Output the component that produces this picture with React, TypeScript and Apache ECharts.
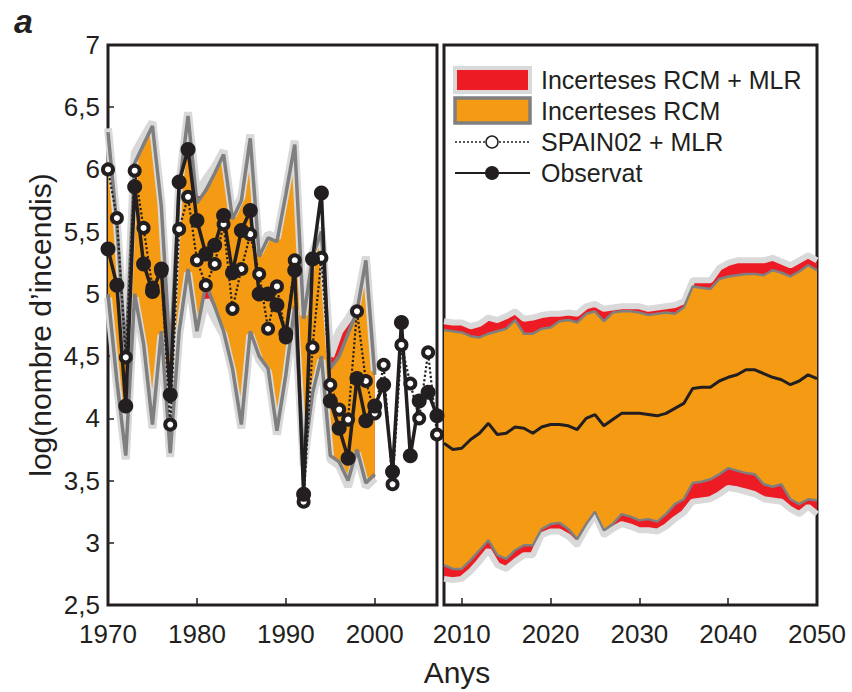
import React, { useEffect, useRef } from "react";
import * as echarts from "echarts";

// ---------- categories ----------
const obsYears = [
  "1970", "1971", "1972", "1973", "1974", "1975", "1976", "1977", "1978", "1979",
  "1980", "1981", "1982", "1983", "1984", "1985", "1986", "1987", "1988", "1989",
  "1990", "1991", "1992", "1993", "1994", "1995", "1996", "1997", "1998", "1999",
  "2000", "2001", "2002", "2003", "2004", "2005", "2006", "2007",
];
const futYears = [
  "2008", "2009", "2010", "2011", "2012", "2013", "2014", "2015", "2016", "2017",
  "2018", "2019", "2020", "2021", "2022", "2023", "2024", "2025", "2026", "2027",
  "2028", "2029", "2030", "2031", "2032", "2033", "2034", "2035", "2036", "2037",
  "2038", "2039", "2040", "2041", "2042", "2043", "2044", "2045", "2046", "2047",
  "2048", "2049", "2050",
];
const yTicks = [2.5, 3, 3.5, 4, 4.5, 5, 5.5, 6, 6.5, 7];

// ---------- historical series (1970-2007) ----------
const observed = [
  5.36, 5.07, 4.10, 5.86, 5.24, 5.02, 5.20, 4.19, 5.90, 6.16,
  5.59, 5.32, 5.39, 5.63, 5.17, 5.51, 5.67, 5.00, 5.00, 4.91,
  4.68, 5.19, 3.39, 5.28, 5.81, 4.14, 3.92, 3.68, 4.32, 3.98,
  4.10, 4.27, 3.57, 4.77, 3.70, 4.14, 4.21, 4.02,
];
const spain02Mlr = [
  6.00, 5.61, 4.49, 5.99, 5.53, 5.05, 5.18, 3.95, 5.52, 5.78,
  5.27, 5.07, 5.24, 5.56, 4.88, 5.20, 5.48, 5.16, 4.72, 5.06,
  4.65, 5.27, 3.33, 4.57, 5.29, 4.27, 4.07, 3.99, 4.86, 4.30,
  4.04, 4.43, 3.47, 4.59, 4.28, 4.00, 4.53, 3.87,
];

// ---------- historical uncertainty bands (1970-2000) ----------
const rcmHighHist = [
  6.30, 5.55, 4.50, 6.05, 6.20, 6.35, 5.70, 4.50, 5.85, 6.43,
  5.73, 5.83, 5.97, 6.12, 5.60, 5.75, 6.25, 5.30, 5.45, 5.42,
  5.80, 6.20, 4.80, 5.30, 5.50, 4.40, 4.50, 4.68, 4.86, 5.27,
  4.35,
];
const rcmLowHist = [
  5.00, 4.30, 3.70, 5.00, 4.60, 3.95, 4.70, 3.72, 4.70, 5.20,
  4.70, 5.08, 4.90, 4.70, 4.40, 3.95, 4.70, 4.50, 4.40, 3.90,
  4.35, 4.90, 3.65, 4.20, 4.50, 3.70, 3.65, 3.50, 3.75, 3.48,
  3.55,
];
const rcmMlrHighHist = [
  6.33, 5.58, 4.53, 6.13, 6.26, 6.38, 5.73, 4.53, 5.88, 6.46,
  5.80, 5.92, 6.02, 6.15, 5.63, 5.78, 6.28, 5.33, 5.48, 5.45,
  5.83, 6.23, 4.83, 5.33, 5.53, 4.50, 4.70, 4.80, 4.92, 5.30,
  4.38,
];
const rcmMlrLowHist = [
  4.97, 4.27, 3.67, 4.97, 4.57, 3.92, 4.67, 3.69, 4.67, 5.17,
  4.65, 4.95, 4.80, 4.67, 4.37, 3.92, 4.67, 4.47, 4.37, 3.87,
  4.32, 4.87, 3.62, 4.17, 4.47, 3.67, 3.62, 3.45, 3.72, 3.45,
  3.52,
];

// ---------- projections (2008-2050) ----------
const futMean = [
  3.80, 3.75, 3.76, 3.83, 3.88, 3.96, 3.87, 3.88, 3.93, 3.92,
  3.88, 3.93, 3.95, 3.95, 3.94, 3.91, 4.00, 4.03, 3.94, 3.99,
  4.04, 4.04, 4.04, 4.03, 4.02, 4.04, 4.08, 4.12, 4.24, 4.25,
  4.25, 4.30, 4.33, 4.35, 4.39, 4.39, 4.36, 4.33, 4.31, 4.27,
  4.30, 4.35, 4.32,
];
const rcmHighFut = [
  4.71, 4.70, 4.69, 4.66, 4.65, 4.68, 4.70, 4.72, 4.79, 4.68,
  4.68, 4.72, 4.73, 4.78, 4.79, 4.77, 4.84, 4.86, 4.78, 4.85,
  4.86, 4.86, 4.85, 4.83, 4.84, 4.85, 4.84, 4.89, 5.06, 5.05,
  5.04, 5.12, 5.14, 5.15, 5.16, 5.16, 5.15, 5.19, 5.17, 5.14,
  5.18, 5.23, 5.19,
];
const rcmLowFut = [
  2.82, 2.79, 2.79, 2.86, 2.94, 3.02, 2.90, 2.87, 2.94, 2.98,
  2.98, 3.11, 3.15, 3.16, 3.11, 3.03, 3.15, 3.25, 3.10, 3.15,
  3.23, 3.21, 3.18, 3.19, 3.17, 3.23, 3.31, 3.35, 3.48, 3.49,
  3.51, 3.55, 3.60, 3.58, 3.56, 3.55, 3.47, 3.45, 3.47, 3.35,
  3.31, 3.35, 3.34,
];
const rcmMlrHighFut = [
  4.78, 4.77, 4.77, 4.74, 4.76, 4.81, 4.79, 4.82, 4.86, 4.80,
  4.81, 4.83, 4.84, 4.84, 4.85, 4.84, 4.90, 4.92, 4.88, 4.89,
  4.90, 4.90, 4.90, 4.88, 4.89, 4.90, 4.91, 4.94, 5.11, 5.11,
  5.11, 5.21, 5.25, 5.27, 5.27, 5.27, 5.27, 5.29, 5.26, 5.23,
  5.27, 5.31, 5.27,
];
const rcmMlrLowFut = [
  2.71, 2.70, 2.71, 2.77, 2.85, 2.94, 2.82, 2.79, 2.85, 2.90,
  2.90, 3.06, 3.09, 3.09, 3.05, 2.98, 3.11, 3.22, 3.06, 3.11,
  3.15, 3.13, 3.10, 3.10, 3.09, 3.13, 3.19, 3.24, 3.33, 3.34,
  3.35, 3.39, 3.44, 3.43, 3.41, 3.39, 3.35, 3.34, 3.33, 3.27,
  3.23, 3.29, 3.23,
];

// ---------- styling ----------
const BLACK = "#231f20";
const RED = "#ed1c24";
const ORANGE = "#f49b13";
const GRAY = "#7f7f7f";
const HALO = "#d9d9d9";
const FONT = "'Liberation Sans', Arial, Helvetica, sans-serif";

const padTo = (arr: (number | string)[], n: number) =>
  arr.concat(Array(Math.max(0, n - arr.length)).fill("-"));
const diff = (hi: number[], lo: number[]) =>
  hi.map((v, i) => Math.round((v - lo[i]) * 1000) / 1000);

function bandSeries(
  prefix: string,
  lo: number[],
  hi: number[],
  loR: number[],
  hiR: number[],
  n: number,
  axis: number,
  haloW: number,
  grayW: number
) {
  const common = {
    type: "line" as const,
    xAxisIndex: axis,
    yAxisIndex: axis,
    symbol: "none",
    silent: true,
    smooth: false,
  };
  return [
    { ...common, name: prefix + "haloHi", data: padTo(hiR, n), lineStyle: { color: HALO, width: haloW } },
    { ...common, name: prefix + "haloLo", data: padTo(loR, n), lineStyle: { color: HALO, width: haloW } },
    { ...common, name: prefix + "redBase", stack: prefix + "r", data: padTo(loR, n), lineStyle: { width: 0, opacity: 0 } },
    {
      ...common,
      name: prefix + "redArea",
      stack: prefix + "r",
      data: padTo(diff(hiR, loR), n),
      lineStyle: { width: 0, opacity: 0 },
      areaStyle: { color: RED, opacity: 1 },
    },
    { ...common, name: prefix + "orBase", stack: prefix + "o", data: padTo(lo, n), lineStyle: { width: 0, opacity: 0 } },
    {
      ...common,
      name: prefix + "orArea",
      stack: prefix + "o",
      data: padTo(diff(hi, lo), n),
      lineStyle: { width: 0, opacity: 0 },
      areaStyle: { color: ORANGE, opacity: 1 },
    },
    { ...common, name: prefix + "grayHi", data: padTo(hi, n), lineStyle: { color: GRAY, width: grayW } },
    { ...common, name: prefix + "grayLo", data: padTo(lo, n), lineStyle: { color: GRAY, width: grayW } },
  ];
}

export default function App() {
  const ref = useRef<HTMLDivElement>(null);

  useEffect(() => {
    if (!ref.current) return;
    const chart = echarts.init(ref.current, undefined, { renderer: "svg" });

    const tickStyle = { color: BLACK, width: 1.5 };
    const xAxisBase = {
      type: "category" as const,
      boundaryGap: false,
      axisLine: { show: false },
      splitLine: { show: false },
      axisLabel: {
        color: BLACK,
        fontSize: 26,
        fontFamily: FONT,
        margin: 16,
        interval: (_i: number, v: string) => Number(v) % 10 === 0,
      },
    };

    const option: any = {
      animation: false,
      backgroundColor: "#ffffff",
      grid: [
        { left: 108, top: 45, width: 329, height: 560, show: true, borderColor: BLACK, borderWidth: 3, backgroundColor: "transparent" },
        { left: 444, top: 45, width: 373, height: 560, show: true, borderColor: BLACK, borderWidth: 3, backgroundColor: "transparent" },
      ],
      xAxis: [
        {
          ...xAxisBase,
          gridIndex: 0,
          data: obsYears,
          axisTick: {
            inside: true,
            length: 7,
            lineStyle: tickStyle,
            interval: (_i: number, v: string) => Number(v) % 10 === 0 && v !== "1970",
          },
        },
        {
          ...xAxisBase,
          gridIndex: 1,
          data: futYears,
          axisTick: {
            inside: true,
            length: 7,
            lineStyle: tickStyle,
            interval: (_i: number, v: string) => Number(v) % 10 === 0 && v !== "2050",
          },
        },
      ],
      yAxis: [
        {
          type: "value",
          gridIndex: 0,
          min: yTicks[0],
          max: yTicks[yTicks.length - 1],
          interval: 0.5,
          axisLine: { show: false },
          splitLine: { show: false },
          axisTick: { show: true, inside: true, length: 6, lineStyle: tickStyle },
          axisLabel: {
            color: BLACK,
            fontSize: 26,
            fontFamily: FONT,
            margin: 8,
            formatter: (v: number) => String(v).replace(".", ","),
          },
        },
        {
          type: "value",
          gridIndex: 1,
          min: yTicks[0],
          max: yTicks[yTicks.length - 1],
          interval: 0.5,
          axisLine: { show: false },
          splitLine: { show: false },
          axisTick: { show: false },
          axisLabel: { show: false },
        },
      ],
      series: [
        ...bandSeries("h", rcmLowHist, rcmHighHist, rcmMlrLowHist, rcmMlrHighHist, obsYears.length, 0, 8, 3.5),
        {
          type: "line",
          name: "SPAIN02 + MLR",
          xAxisIndex: 0,
          yAxisIndex: 0,
          data: spain02Mlr,
          symbol: "circle",
          symbolSize: 10,
          showAllSymbol: true,
          lineStyle: { color: BLACK, width: 2.2, type: "dotted" },
          itemStyle: { color: "#ffffff", borderColor: BLACK, borderWidth: 4 },
          silent: true,
        },
        {
          type: "line",
          name: "Observat",
          xAxisIndex: 0,
          yAxisIndex: 0,
          data: observed,
          symbol: "circle",
          symbolSize: 15,
          showAllSymbol: true,
          lineStyle: { color: BLACK, width: 3.5 },
          itemStyle: { color: BLACK },
          silent: true,
        },
        ...bandSeries("f", rcmLowFut, rcmHighFut, rcmMlrLowFut, rcmMlrHighFut, futYears.length, 1, 6, 2.5),
        {
          type: "line",
          name: "Mitjana",
          xAxisIndex: 1,
          yAxisIndex: 1,
          data: futMean,
          symbol: "none",
          lineStyle: { color: BLACK, width: 3 },
          silent: true,
        },
      ],
      graphic: [
        { type: "text", left: 14, top: 4, style: { text: "a", font: `italic bold 34px ${FONT}`, fill: BLACK } },
        {
          type: "text",
          x: 40,
          y: 325,
          rotation: Math.PI / 2,
          style: { text: "log(nombre d\u2019incendis)", font: `30px ${FONT}`, fill: BLACK, align: "center", verticalAlign: "middle" },
        },
        {
          type: "text",
          x: 457,
          y: 672,
          style: { text: "Anys", font: `30px ${FONT}`, fill: BLACK, align: "center", verticalAlign: "middle" },
        },
        // legend
        { type: "rect", shape: { x: 455, y: 68, width: 75, height: 24 }, style: { fill: RED, stroke: HALO, lineWidth: 4 } },
        { type: "rect", shape: { x: 455, y: 98, width: 75, height: 25 }, style: { fill: ORANGE, stroke: GRAY, lineWidth: 3.5 } },
        { type: "line", shape: { x1: 455, y1: 142, x2: 530, y2: 142 }, style: { stroke: BLACK, lineWidth: 1.5, lineDash: [2, 2] } },
        { type: "circle", shape: { cx: 492, cy: 142, r: 6 }, style: { fill: "#ffffff", stroke: BLACK, lineWidth: 1.5 } },
        { type: "line", shape: { x1: 455, y1: 173, x2: 530, y2: 173 }, style: { stroke: BLACK, lineWidth: 1.8 } },
        { type: "circle", shape: { cx: 492, cy: 173, r: 7 }, style: { fill: BLACK } },
        { type: "text", x: 541, y: 80, style: { text: "Incerteses RCM + MLR", font: `25px ${FONT}`, fill: BLACK, verticalAlign: "middle" } },
        { type: "text", x: 541, y: 111, style: { text: "Incerteses RCM", font: `25px ${FONT}`, fill: BLACK, verticalAlign: "middle" } },
        { type: "text", x: 541, y: 142, style: { text: "SPAIN02 + MLR", font: `25px ${FONT}`, fill: BLACK, verticalAlign: "middle" } },
        { type: "text", x: 541, y: 173, style: { text: "Observat", font: `25px ${FONT}`, fill: BLACK, verticalAlign: "middle" } },
      ],
    };

    chart.setOption(option);
    return () => chart.dispose();
  }, []);

  return (
    <div
      ref={ref}
      style={{ position: "fixed", left: 0, top: 0, width: 852, height: 692 }}
    />
  );
}
